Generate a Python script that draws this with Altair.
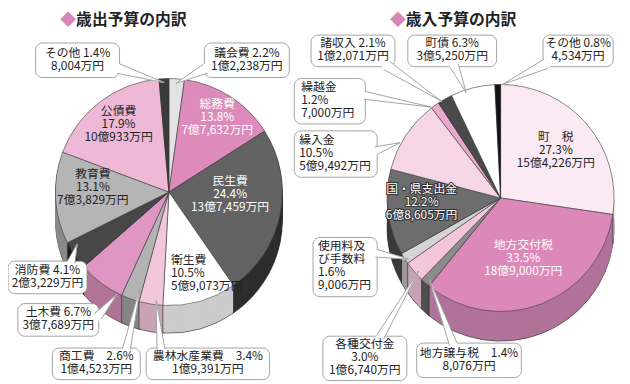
import math
import altair as alt
import pandas as pd

# ---------------- data ----------------
exp_names = ["議会費", "総務費", "民生費", "衛生費", "農林水産業費", "商工費",
             "土木費", "消防費", "教育費", "公債費", "その他"]
exp_pct = [2.2, 13.8, 24.4, 10.5, 3.4, 2.6, 6.7, 4.1, 13.1, 17.9, 1.4]
exp_amount = ["1億2,238万円", "7億7,632万円", "13億7,459万円", "5億9,073万円",
              "1億9,391万円", "1億4,523万円", "3億7,689万円", "2億3,229万円",
              "7億3,829万円", "10億933万円", "8,004万円"]

rev_names = ["町税", "地方交付税", "地方譲与税", "各種交付金", "使用料及び手数料",
             "国・県支出金", "繰入金", "繰越金", "諸収入", "町債", "その他"]
rev_pct = [27.3, 33.5, 1.4, 3.0, 1.6, 12.2, 10.5, 1.2, 2.1, 6.3, 0.8]
rev_amount = ["15億4,226万円", "18億9,000万円", "8,076万円", "1億6,740万円",
              "9,006万円", "6億8,605万円", "5億9,492万円", "7,000万円",
              "1億2,071万円", "3億5,250万円", "4,534万円"]

titles = ["歳出予算の内訳", "歳入予算の内訳"]

# ---------------- styles ----------------
exp_top = ["#e3e3e3", "#dd8bbb", "#626262", "#ffffff", "#f2c6dd", "#b3b3b3",
           "#df96c3", "#474747", "#b5b5b5", "#edb9d6", "#3a3a3a"]
exp_side = ["#aaaaaa", "#a86a8e", "#2e2e2e", "#cccccc", "#c9a3b6", "#858585",
            "#b07596", "#1a1a1a", "#8a8a8a", "#b890a5", "#222222"]
rev_top = ["#fbeaf3", "#dc89b9", "#8c8c8c", "#f3c6de", "#d4d4d4", "#6d6d6d",
           "#f5d5e6", "#e9a9cd", "#4a4a4a", "#ffffff", "#111111"]
rev_side = ["#c8b8c0", "#b0739a", "#4e4e4e", "#c9a1b7", "#9a9a9a", "#3a3a3a",
            "#c4a8b6", "#b4839e", "#222222", "#cccccc", "#000000"]

FONT = "Noto Sans CJK JP"
FS, LH = 12, 13.2
OFF = 8
W, H = 622, 376
R = 115
# pie: (cx, cy, depth)
PIES = {"exp": (171, 192, 28), "rev": (507, 198, 30)}

# ---------------- layout of labels ----------------
# callouts: pie, index, box(x0,y0,x1,y1), align, text-x, template, pointer (bx,by,tx,ty,w)
callouts = [
    ("exp", 10, (36, 41, 121, 76), "center", None, "{n} {p}\n{a}", (120, 67, 166, 81, 10)),
    ("exp", 0, (207, 41, 293, 76), "center", None, "{n} {p}\n{a}", (208, 67, 178, 82, 10)),
    ("exp", 7, (8, 262, 88, 295), "center", None, "{n} {p}\n{a}", (72, 263, 78, 245, 8)),
    ("exp", 6, (18, 305, 100, 338), "center", None, "{n}  {p}\n{a}", (99, 318, 118, 296, 9)),
    ("exp", 5, (53, 350, 142, 382), "center", None, "{n}　{p}\n{a}", (128, 351, 142, 288, 8)),
    ("exp", 4, (148, 350, 273, 382), "center", None, "{n}　{p}\n{a}", (163, 351, 158, 302, 8)),
    ("rev", 8, (315, 33, 400, 65), "center", None, "{n} {p}\n{a}", (392, 64, 447, 100, 10)),
    ("rev", 9, (413, 33, 503, 65), "center", None, "{n} {p}\n{a}", (460, 64, 472, 91, 9)),
    ("rev", 10, (550, 33, 621, 65), "center", None, "{n} {p}\n{a}", (553, 62, 509, 83, 10)),
    ("rev", 7, (298, 77, 370, 123), "left", 305, "{n}\n{p}\n{a}", (369, 94, 437, 106, 8)),
    ("rev", 6, (298, 130, 382, 177), "left", 303, "{n}\n{p}\n{a}", (381, 150, 405, 142, 8)),
    ("rev", 4, (317, 238, 382, 298), "left", 322, "使用料及\nび手数料\n{p}\n{a}", (381, 254, 414, 260, 8)),
    ("rev", 3, (327, 338, 412, 383), "center", None, "{n}\n{p}\n{a}", (385, 339, 424, 272, 8)),
    ("rev", 2, (422, 345, 528, 380), "center", None, "{n}　{p}\n{a}", (459, 346, 435, 281, 8)),
]
# inside labels: pie, index, x, y(centre of block), align, colour, halo, template
inside = [
    ("exp", 1, 220, 117, "center", "white", False, "{n}\n{p}\n{a}"),
    ("exp", 2, 233, 195, "center", "white", False, "{n}\n{p}\n{a}"),
    ("exp", 3, 173, 275, "left", "#222222", False, "{n}\n{p}\n{a}"),
    ("exp", 9, 120, 124, "center", "#222222", False, "{n}\n{p}\n{a}"),
    ("exp", 8, 94, 188, "center", "#222222", False, "{n}\n{p}\n{a}"),
    ("rev", 0, 563, 151, "center", "#222222", False, "町　税\n{p}\n{a}"),
    ("rev", 1, 530, 260, "center", "white", False, "{n}\n{p}\n{a}"),
    ("rev", 5, 427, 203, "center", "white", True, "{n}\n{p}\n{a}"),
]
title_pos = [(69, 403), (77, 411)]  # diamond x, text x
TITLE_Y = 18

SRC = {
    "exp": (exp_names, exp_pct, exp_amount, exp_top, exp_side),
    "rev": (rev_names, rev_pct, rev_amount, rev_top, rev_side),
}


def fmt(pie, i, tpl):
    n, p, a = SRC[pie][0][i], SRC[pie][1][i], SRC[pie][2][i]
    return tpl.format(n=n, p=f"{p:.1f}%", a=a)


def top_of(yc, label):
    n = label.count("\n") + 1
    return yc - n * LH / 2 + 0.5


# ---------------- tables ----------------
side_rows, rim_rows, top_rows = [], [], []
for pie, (names, pct, amt, top, side) in SRC.items():
    cx, cy, depth = PIES[pie]
    for i, (n, v) in enumerate(zip(names, pct)):
        top_rows.append(dict(pie=pie, d=0, k=i, name=n, value=v, cx=cx, cy=cy,
                             depth=depth, fill=top[i]))
        rim_rows.append(dict(pie=pie, d=depth, k=i, name=n, value=v, cx=cx, cy=cy + depth, fill=side[i]))
        for d in range(depth - 1, 0, -1):
            side_rows.append(dict(pie=pie, d=d, k=i, name=n, value=v, cx=cx, cy=cy + d, fill=side[i], zo=-d))

xs = alt.Scale(domain=[OFF, OFF + W], range=[0, W], nice=False, zero=False)
ys = alt.Scale(domain=[OFF, OFF + H], range=[0, H], nice=False, zero=False)


def X(f):
    return alt.X(f, type="quantitative", scale=xs, axis=None)


def Y(f):
    return alt.Y(f, type="quantitative", scale=ys, axis=None)


def pie_base(rows):
    return (alt.Chart(pd.DataFrame(rows))
            .transform_joinaggregate(total="sum(value)", groupby=["pie", "d"])
            .transform_window(cum="sum(value)", sort=[alt.SortField("k")],
                              groupby=["pie", "d"], frame=[None, 0])
            .transform_calculate(t1="datum.cum / datum.total * 2 * PI",
                                 t0="(datum.cum - datum.value) / datum.total * 2 * PI"))


def pie_layer(rows, stroke=None, sw=0.0, order=False):
    kw = dict(radius=R)
    if stroke:
        kw.update(stroke=stroke, strokeWidth=sw)
    else:
        kw.update(strokeWidth=0)
    enc = dict(x=X("cx"), y=Y("cy"),
               theta=alt.Theta("t0:Q", scale=None),
               theta2=alt.Theta2("t1:Q"),
               fill=alt.Fill("fill:N", scale=None))
    if order:
        enc["order"] = alt.Order("zo:Q")
    return pie_base(rows).mark_arc(**kw).encode(**enc)


rim = pie_layer(rim_rows, stroke="#333333", sw=0.7)
sides = pie_layer(side_rows, order=True)
tops = pie_layer(top_rows, stroke="#3a3a3a", sw=0.6)

# vertical seams on the side wall at slice boundaries (front half only)
seams = (pie_base(top_rows)
         .transform_calculate(bx=f"datum.cx + {R} * sin(datum.t1)",
                              by=f"datum.cy - {R} * cos(datum.t1)")
         .transform_calculate(by2="datum.by + datum.depth")
         .transform_filter("datum.by > datum.cy + 2")
         .mark_rule(color="#333333", strokeWidth=0.7)
         .encode(x=X("bx"), y=Y("by"), y2="by2"))

# inside labels
in_rows = []
for p, i, x, y, al, c, h, t in inside:
    lab = fmt(p, i, t)
    in_rows.append(dict(x=x, y=top_of(y, lab), label=lab, color=c, halo=h, al=al))
in_df = pd.DataFrame(in_rows)


def text_layer(df, align, **kw):
    return alt.Chart(df).mark_text(align=align, baseline="top", font=FONT, fontSize=FS,
                                   lineHeight=LH, lineBreak="\n", **kw)


halo_df = in_df[in_df["halo"]]
in_center = in_df[in_df["al"] == "center"]
in_left = in_df[in_df["al"] == "left"]
halo = text_layer(halo_df, "center", stroke="#333333", strokeWidth=2.2, strokeJoin="round").encode(
    x=X("x"), y=Y("y"), text="label:N", fill=alt.value("#333333"))
inner_c = text_layer(in_center, "center").encode(x=X("x"), y=Y("y"), text="label:N",
                                                 color=alt.Color("color:N", scale=None))
inner_l = text_layer(in_left, "left").encode(x=X("x"), y=Y("y"), text="label:N",
                                             color=alt.Color("color:N", scale=None))

# callout boxes
box_df = pd.DataFrame([dict(x0=b[0], y0=b[1], x1=b[2], y1=b[3]) for _, _, b, _, _, _, _ in callouts])
boxes = alt.Chart(box_df).mark_rect(fill="white", stroke="#8c8c8c", strokeWidth=0.8,
                                    cornerRadius=7).encode(
    x=X("x0"), x2="x1", y=Y("y0"), y2="y1")

# pointers
trail_rows, edge_rows = [], []
for j, (_, _, _, _, _, _, (bx, by, tx, ty, w)) in enumerate(callouts):
    dx, dy = tx - bx, ty - by
    L = math.hypot(dx, dy)
    px, py = -dy / L, dx / L
    trail_rows.append(dict(id=j, step=0, x=bx, y=by, s=w))
    trail_rows.append(dict(id=j, step=1, x=tx, y=ty, s=0.0))
    for sgn in (1, -1):
        edge_rows.append(dict(x=bx + sgn * px * w / 2, y=by + sgn * py * w / 2, x2=tx, y2=ty))
trail = alt.Chart(pd.DataFrame(trail_rows)).mark_trail(color="white").encode(
    x=X("x"), y=Y("y"), size=alt.Size("s:Q", scale=None, legend=None),
    detail="id:N", order="step:Q")
edges = alt.Chart(pd.DataFrame(edge_rows)).mark_rule(color="#8c8c8c", strokeWidth=0.8).encode(
    x=X("x"), y=Y("y"), x2="x2", y2="y2")

# callout text
co_rows = []
for p, i, b, al, tx_, t, _ in callouts:
    x = (b[0] + b[2]) / 2 if al == "center" else tx_
    lab = fmt(p, i, t)
    co_rows.append(dict(x=x, y=top_of((b[1] + b[3]) / 2, lab), label=lab, al=al))
co_df = pd.DataFrame(co_rows)
co_c = text_layer(co_df[co_df["al"] == "center"], "center", color="#222222").encode(
    x=X("x"), y=Y("y"), text="label:N")
co_l = text_layer(co_df[co_df["al"] == "left"], "left", color="#222222").encode(
    x=X("x"), y=Y("y"), text="label:N")

# titles
t_df = pd.DataFrame([dict(dx=title_pos[0][k], tx=title_pos[1][k], y=TITLE_Y, title=titles[k])
                     for k in range(2)])
diam = alt.Chart(t_df).mark_text(text="◆", font=FONT, fontSize=16, color="#d886b4",
                                 align="center", baseline="middle").encode(x=X("dx"), y=Y("y"))
ttl = alt.Chart(t_df).mark_text(font=FONT, fontSize=16, fontWeight="bold", color="#222222",
                                align="left", baseline="middle").encode(
    x=X("tx"), y=Y("y"), text="title:N")

chart = alt.layer(rim, sides, seams, tops, halo, inner_c, inner_l, boxes, trail, edges,
                  co_c, co_l, diam, ttl).properties(
    width=W, height=H, padding=0,
    autosize=alt.AutoSizeParams(type="none"),
).configure_view(stroke=None)

chart.save("out.html", embed_options={"renderer": "svg", "actions": False})
